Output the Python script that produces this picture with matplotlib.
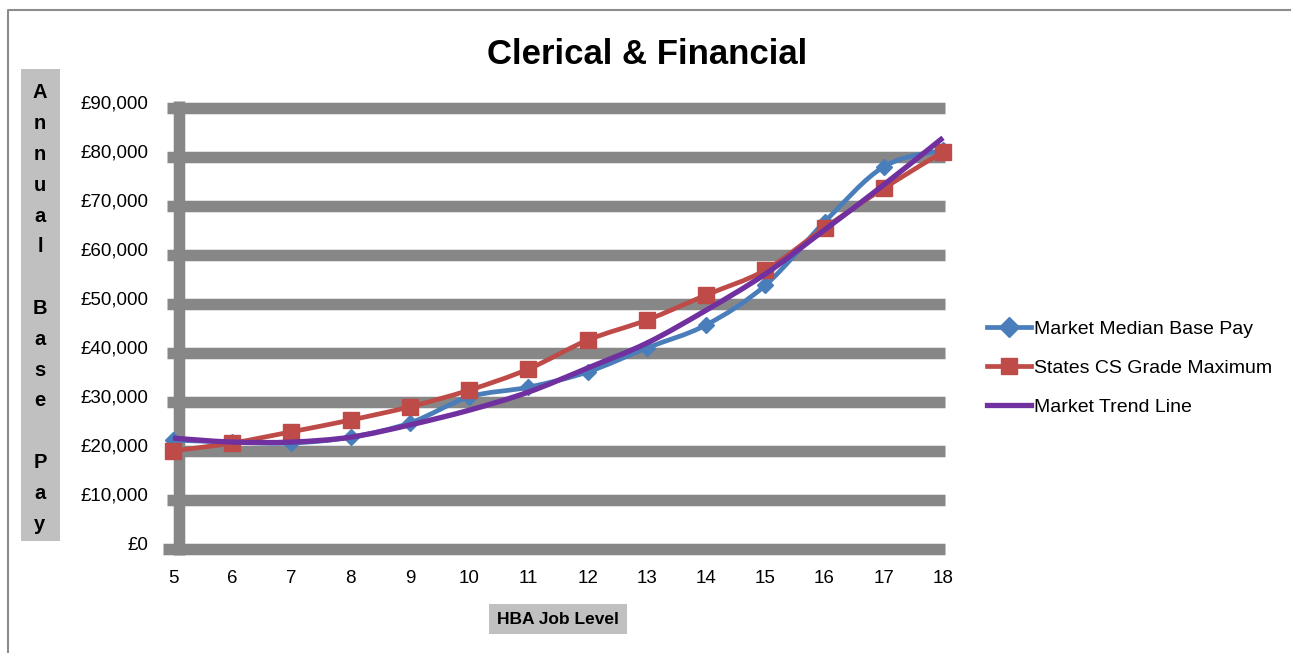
import matplotlib
matplotlib.use("Agg")
import matplotlib.pyplot as plt
import numpy as np
from matplotlib.path import Path
from matplotlib.patches import PathPatch, Rectangle
from matplotlib.lines import Line2D
from matplotlib.transforms import ScaledTranslation
from matplotlib.ticker import FuncFormatter

# Job levels and pay figures
levels = [5, 6, 7, 8, 9, 10, 11, 12, 13, 14, 15, 16, 17, 18]
market_median = [21000, 20600, 20400, 21600, 24500, 29800, 31800, 34900,
                 39800, 44500, 52600, 65500, 76800, 80200]
grade_maximum = [18800, 20400, 22700, 25100, 27800, 31200, 35500, 41400,
                 45500, 50600, 55700, 64300, 72400, 79800]
market_trend = [21400, 20600, 20600, 21600, 24100, 27100, 30800, 35700,
                40800, 47500, 54900, 63900, 73100, 82700]
y_ticks = [0, 10000, 20000, 30000, 40000, 50000, 60000, 70000, 80000, 90000]

series_names = ["Market Median Base Pay", "States CS Grade Maximum", "Market Trend Line"]
blue = "#4A7EBB"
red = "#BE4B48"
purple = "#7030A0"
grid_gray = "#878787"

W, H, DPI = 1294, 653, 100
NARROW = ["Liberation Sans Narrow", "Liberation Sans", "DejaVu Sans"]
plt.rcParams["font.family"] = ["Liberation Sans", "DejaVu Sans"]


def smooth_path(xs, ys):
    # cubic bezier through every point, like a spreadsheet "smoothed line"
    p = np.column_stack([xs, ys]).astype(float)
    verts = [p[0]]
    codes = [Path.MOVETO]
    n = len(p)
    for i in range(n - 1):
        p0 = p[i - 1] if i > 0 else p[i]
        p3 = p[i + 2] if i + 2 < n else p[i + 1]
        c1 = p[i] + (p[i + 1] - p0) / 6.0
        c2 = p[i + 1] - (p3 - p[i]) / 6.0
        verts += [c1, c2, p[i + 1]]
        codes += [Path.CURVE4] * 3
    return Path(verts, codes)


fig = plt.figure(figsize=(W / DPI, H / DPI), dpi=DPI)

# pixel layout of the plot area
ax_left, ax_right, ax_top, ax_bottom = 150, 960, 90, 560
x0_px, x_step = 173, 770 / 13.0
y0_px, y_step = 543, 49.0 / 10000

ax = fig.add_axes([ax_left / W, 1 - ax_bottom / H,
                   (ax_right - ax_left) / W, (ax_bottom - ax_top) / H])
ax.set_xlim(5 + (ax_left - x0_px) / x_step, 5 + (ax_right - x0_px) / x_step)
ax.set_ylim((y0_px - ax_bottom) / y_step, (y0_px - ax_top) / y_step)
for s in ax.spines.values():
    s.set_visible(False)

# thick grey gridlines, drawn hanging below their value
down = ax.transData + ScaledTranslation(0, -5.75 / DPI, fig.dpi_scale_trans)
right = ax.transData + ScaledTranslation(5.75 / DPI, 0, fig.dpi_scale_trans)
lw_grid = 11.5 * 72 / DPI
x_lo = levels[0] - 6 / x_step
x_hi = levels[-1] + 2 / x_step
for v in y_ticks:
    start = levels[0] - 10 / x_step if v == 0 else x_lo
    ax.plot([start, x_hi], [v, v], color=grid_gray, lw=lw_grid,
            solid_capstyle="butt", transform=down, zorder=1, clip_on=False)
ax.plot([levels[0], levels[0]], [-12 / y_step, y_ticks[-1] + 1 / y_step],
        color=grid_gray, lw=lw_grid, solid_capstyle="butt",
        transform=right, zorder=1, clip_on=False)

# series
ax.add_patch(PathPatch(smooth_path(levels, market_median), fill=False,
                       edgecolor=blue, lw=3.4, zorder=3, clip_on=False))
ax.plot(levels, market_median, ls="none", marker="D", ms=8.5,
        color=blue, zorder=3.5, clip_on=False)
ax.add_patch(PathPatch(smooth_path(levels, grade_maximum), fill=False,
                       edgecolor=red, lw=3.4, zorder=4, clip_on=False))
ax.plot(levels, grade_maximum, ls="none", marker="s", ms=12,
        color=red, zorder=4.5, clip_on=False)
ax.add_patch(PathPatch(smooth_path(levels, market_trend), fill=False,
                       edgecolor=purple, lw=3.8, zorder=5, clip_on=False))

# axes ticks and labels
ax.set_xticks(levels)
ax.set_yticks(y_ticks)
ax.yaxis.set_major_formatter(FuncFormatter(lambda v, p: "£{:,.0f}".format(v)))
ax.tick_params(axis="both", length=0, labelsize=13.5, colors="black")
ax.tick_params(axis="y", pad=1)
ax.tick_params(axis="x", pad=7)

# title
fig.text(647 / W, 1 - 55 / H, "Clerical & Financial", ha="center", va="center",
         fontsize=25, fontweight="bold", family=NARROW)

# vertical axis title in a grey box, one letter per row
fig.add_artist(Rectangle((21 / W, 1 - 541 / H), 39 / W, 472 / H,
                         transform=fig.transFigure, facecolor="#C0C0C0",
                         edgecolor="none"))
ylabel = "Annual Base Pay"
for i, ch in enumerate(ylabel):
    fig.text(40 / W, 1 - (93 + i * 30.8) / H, ch, ha="center", va="center",
             fontsize=14.5, fontweight="bold", family=NARROW)

# horizontal axis title
fig.text(558 / W, 1 - 619 / H, "HBA Job Level", ha="center", va="center",
         fontsize=12.5, fontweight="bold", family=NARROW,
         bbox=dict(boxstyle="square,pad=0.45", facecolor="#C0C0C0", edgecolor="none"))

# legend
handles = [
    Line2D([], [], color=blue, lw=3.4, marker="D", ms=10),
    Line2D([], [], color=red, lw=3.4, marker="s", ms=12),
    Line2D([], [], color=purple, lw=3.8),
]
fig.legend(handles, series_names, loc="center left",
           bbox_to_anchor=(977 / W, 1 - 368 / H), frameon=False,
           fontsize=14, handlelength=2.3, handletextpad=0.15,
           labelspacing=1.1, borderpad=0)

# outer chart frame (left and top edges)
fig.add_artist(Line2D([8 / W, 8 / W, 1290 / W], [0, 1 - 10 / H, 1 - 10 / H],
                      transform=fig.transFigure, color="#8C8C8C", lw=1.5))

fig.savefig("out.png", dpi=DPI)
